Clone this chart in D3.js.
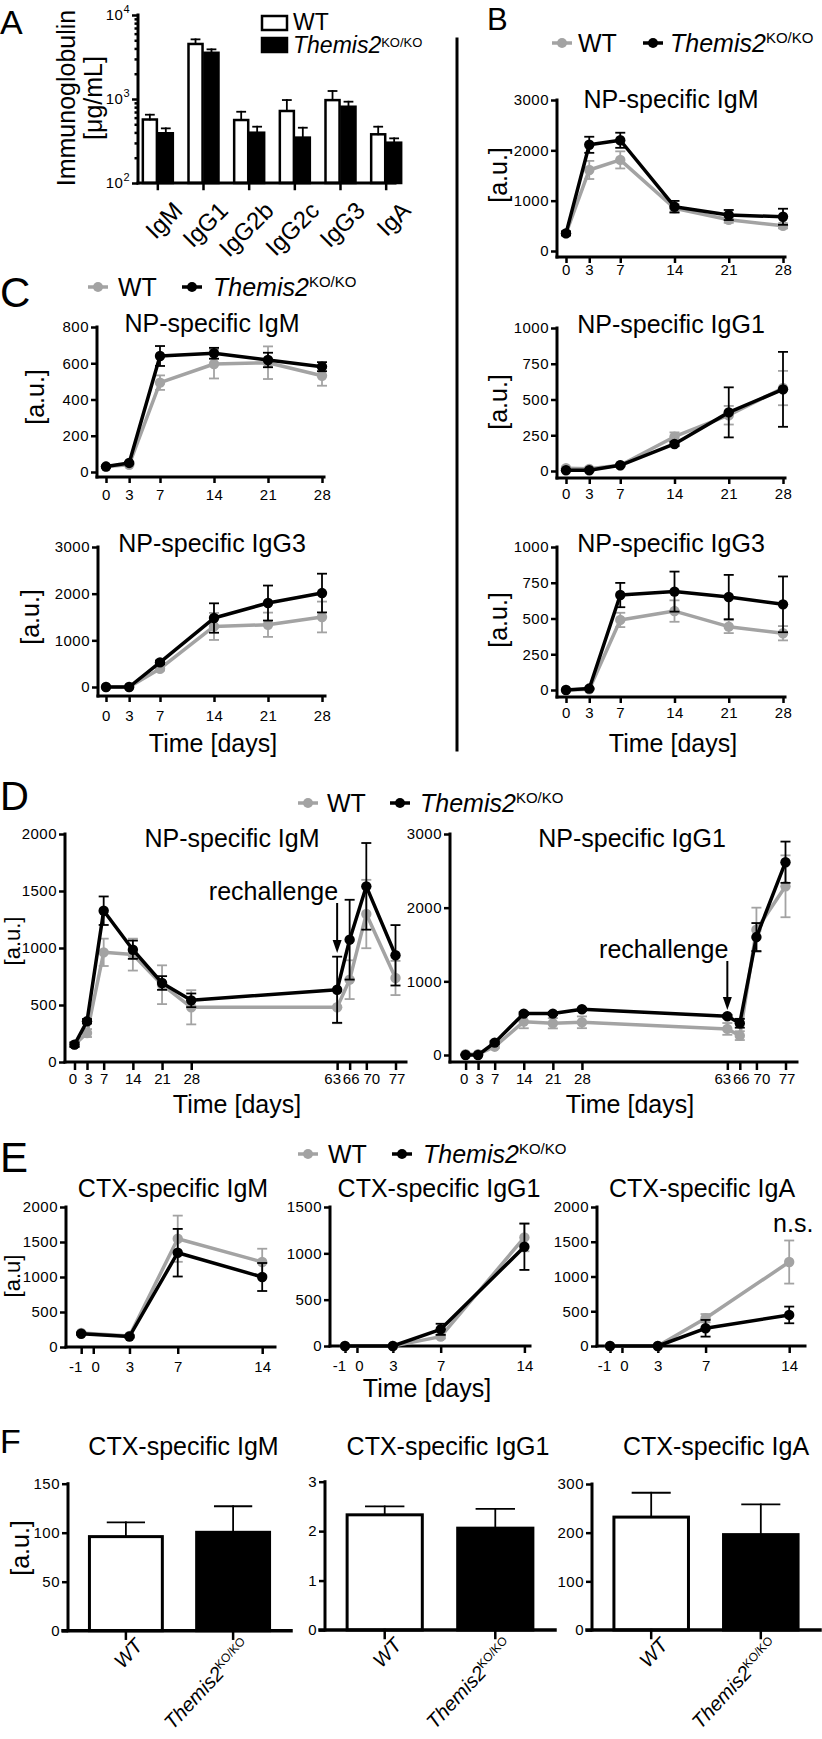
<!DOCTYPE html>
<html>
<head>
<meta charset="utf-8">
<script src="https://cdn.jsdelivr.net/npm/d3@7"></script>
<style>
  body { margin: 0; background: #fff; }
  svg text { font-family: 'Liberation Sans', Arial, Helvetica, sans-serif; fill: #000; }
</style>
</head>
<body>
<svg id="fig" width="822" height="1739"></svg>
<script>
/* global d3 */

var GRAY = '#a3a3a3'
var TXT = 25 // titles, legends, axis names
var TICK = 15

// panel A - total serum Ig (log scale)
var aCats = ['IgM', 'IgG1', 'IgG2b', 'IgG2c', 'IgG3', 'IgA']
var aWT = [570, 4520, 562, 720, 970, 380]
var aWTErr = [80, 610, 143, 252, 275, 88]
var aKO = [391, 3550, 397, 347, 809, 302]
var aKOErr = [56, 350, 71, 108, 120, 38]
var aTicks = [100, 1000, 10000]

// panels B / C - NP immunisation, days 0-28
var days28 = [0, 3, 7, 14, 21, 28]
var bIgMWT = [350, 1610, 1810, 850, 620, 500]
var bIgMWTErr = [40, 180, 170, 80, 60, 50]
var bIgMKO = [350, 2110, 2200, 880, 715, 680]
var bIgMKOErr = [40, 160, 150, 115, 100, 160]
var bIgG1WT = [20, 15, 40, 240, 390, 580]
var bIgG1WTErr = [10, 10, 10, 30, 65, 120]
var bIgG1KO = [5, 5, 40, 189, 410, 571]
var bIgG1KOErr = [5, 5, 5, 15, 175, 262]
var bIgG3WT = [0, 5, 490, 552, 443, 397]
var bIgG3WTErr = [0, 3, 50, 75, 45, 50]
var bIgG3KO = [0, 10, 664, 688, 650, 599]
var bIgG3KOErr = [0, 5, 85, 140, 155, 195]

var cIgMWT = [30, 40, 493, 596, 603, 531]
var cIgMWTErr = [5, 5, 40, 80, 90, 55]
var cIgMKO = [30, 50, 640, 655, 618, 581]
var cIgMKOErr = [5, 5, 55, 30, 40, 25]
var cIgG3WT = [0, 0, 392, 1298, 1334, 1500]
var cIgG3WTErr = [0, 0, 40, 290, 260, 330]
var cIgG3KO = [0, 0, 527, 1478, 1799, 2013]
var cIgG3KOErr = [0, 0, 40, 315, 375, 415]

// panel D - rechallenge at day 63
var days77 = [0, 3, 7, 14, 21, 28, 63, 66, 70, 77]
var dIgMWT = [152, 254, 962, 942, 678, 480, 480, 722, 1298, 737]
var dIgMWTErr = [20, 35, 120, 140, 170, 150, 140, 170, 300, 150]
var dIgMKO = [152, 357, 1327, 985, 693, 541, 634, 1073, 1541, 936]
var dIgMKOErr = [20, 20, 125, 80, 60, 60, 290, 350, 380, 265]
var dIgG1WT = [10, 10, 113, 453, 431, 444, 354, 263, 1700, 2290]
var dIgG1WTErr = [5, 5, 20, 90, 70, 80, 80, 60, 300, 420]
var dIgG1KO = [0, 0, 168, 562, 562, 621, 526, 431, 1601, 2617]
var dIgG1KOErr = [5, 5, 20, 20, 20, 20, 20, 60, 190, 280]

// panel E - CTX immunisation
var daysE = [-1, 3, 7, 14]
var tickE = [-1, 0, 3, 7, 14]
var eIgMWT = [200, 157, 1547, 1214]
var eIgMWTErr = [15, 15, 330, 190]
var eIgMKO = [190, 150, 1347, 1000]
var eIgMKOErr = [15, 15, 340, 200]
var eIgG1WT = [0, 0, 101, 1172]
var eIgG1WTErr = [0, 0, 20, 150]
var eIgG1KO = [0, 0, 180, 1071]
var eIgG1KOErr = [0, 0, 60, 250]
var eIgAWT = [0, 0, 400, 1208]
var eIgAWTErr = [0, 0, 60, 310]
var eIgAKO = [0, 0, 255, 447]
var eIgAKOErr = [0, 0, 120, 120]

// panel F - CTX bars
var fGroups = ['WT', 'KO']
var fIgM = [96, 100.4]
var fIgMErr = [14.6, 26.6]
var fIgG1 = [2.33, 2.06]
var fIgG1Err = [0.17, 0.39]
var fIgA = [232, 196]
var fIgAErr = [50, 62]

var svg = d3.select('#fig')
svg.append('rect').attr('width', 822).attr('height', 1739).attr('fill', '#fff')

function axisStyle (g) {
  g.attr('font-size', TICK).attr('font-family', null)
  g.select('.domain').remove()
  g.selectAll('.tick line').attr('stroke', '#000').attr('stroke-width', 2.5)
  g.selectAll('.tick text').attr('letter-spacing', '0.5px')
}

function rule (g, x1, y1, x2, y2, w, col) {
  g.append('line')
    .attr('x1', x1).attr('y1', y1).attr('x2', x2).attr('y2', y2)
    .attr('stroke', col || '#000').attr('stroke-width', w || 3)
    .attr('stroke-linecap', 'square')
}

function addText (g, x, y, str, size, anchor) {
  return g.append('text').attr('x', x).attr('y', y)
    .attr('font-size', size).attr('text-anchor', anchor || 'start').text(str)
}

function vLabel (g, x, y, str, size) {
  g.append('text')
    .attr('transform', 'translate(' + x + ',' + y + ') rotate(-90)')
    .attr('text-anchor', 'middle').attr('dy', '0.35em')
    .attr('font-size', size || TXT).text(str)
}

function themis (t, sup, rise) {
  t.append('tspan').attr('font-style', 'italic').text('Themis2')
  t.append('tspan').attr('font-size', sup || 15).attr('dy', -(rise || 9)).text('KO/KO')
  return t
}

function panelLetter (x, y, s, size) {
  addText(svg, x, y, s, size)
}

function lineLegend (y, xs) {
  var g = svg.append('g')
  ;[[xs[0], GRAY], [xs[2], '#000']].forEach(function (m) {
    g.append('line').attr('x1', m[0]).attr('x2', m[0] + 20).attr('y1', y).attr('y2', y)
      .attr('stroke', m[1]).attr('stroke-width', 3.5)
    g.append('circle').attr('cx', m[0] + 10).attr('cy', y).attr('r', 5).attr('fill', m[1])
  })
  addText(g, xs[1], y + 8.5, 'WT', TXT)
  themis(addText(g, xs[3], y + 8.5, null, TXT))
}

function lineChart (o) {
  var g = svg.append('g')
  var x = d3.scaleLinear().domain(o.xd).range(o.xr)
  var y = d3.scaleLinear().domain(o.yd).range(o.yr)

  g.append('g').attr('transform', 'translate(' + o.ax + ',0)')
    .call(d3.axisLeft(y).tickValues(o.yTicks).tickSize(6).tickPadding(2).tickFormat(String))
    .call(axisStyle)
  var xa = g.append('g').attr('transform', 'translate(0,' + o.ay + ')')
    .call(d3.axisBottom(x).tickValues(o.xTicks).tickSize(o.xts || 6).tickPadding(o.xtp || 3).tickFormat(String))
    .call(axisStyle)
  if (o.nudge) {
    xa.selectAll('.tick text')
      .attr('letter-spacing', null)
      .attr('dx', function (d) { return o.nudge[d] || 0 })
  }
  rule(g, o.ax, y(o.yd[1]), o.ax, o.ay)
  rule(g, o.ax, o.ay, o.axEnd, o.ay)

  var series = [
    {v: o.wt, e: o.wtE, c: GRAY},
    {v: o.ko, e: o.koE, c: '#000'}
  ]
  series.forEach(function (s) {
    var pts = o.days.map(function (d, i) { return {d: d, v: s.v[i], e: s.e[i]} })
    var sg = g.append('g')
    var eb = sg.selectAll('g.err')
      .data(pts.filter(function (p) { return p.e > 0 }))
      .enter().append('g').attr('class', 'err')
      .attr('stroke', s.c).attr('stroke-width', 1.8)
    eb.append('line')
      .attr('x1', function (p) { return x(p.d) }).attr('x2', function (p) { return x(p.d) })
      .attr('y1', function (p) { return y(Math.max(0, p.v - p.e)) })
      .attr('y2', function (p) { return y(p.v + p.e) })
    eb.append('line')
      .attr('x1', function (p) { return x(p.d) - 5 }).attr('x2', function (p) { return x(p.d) + 5 })
      .attr('y1', function (p) { return y(p.v + p.e) }).attr('y2', function (p) { return y(p.v + p.e) })
    eb.append('line')
      .attr('x1', function (p) { return x(p.d) - 5 }).attr('x2', function (p) { return x(p.d) + 5 })
      .attr('y1', function (p) { return y(Math.max(0, p.v - p.e)) })
      .attr('y2', function (p) { return y(Math.max(0, p.v - p.e)) })
    sg.append('path').datum(pts)
      .attr('d', d3.line().x(function (p) { return x(p.d) }).y(function (p) { return y(p.v) }))
      .attr('fill', 'none').attr('stroke', s.c).attr('stroke-width', 3.5)
      .attr('stroke-linejoin', 'round')
    sg.selectAll('circle').data(pts).enter().append('circle')
      .attr('cx', function (p) { return x(p.d) }).attr('cy', function (p) { return y(p.v) })
      .attr('r', 5.2).attr('fill', s.c)
  })

  addText(g, o.title[1], o.title[2], o.title[0], TXT, 'middle')
  if (o.ylab) vLabel(g, o.ylab[1], o.ylab[2], o.ylab[0], o.ylab[3])
  if (o.xlab) addText(g, o.xlab[0], o.xlab[1], 'Time [days]', TXT, 'middle')
  return {g: g, x: x, y: y}
}

function rechallenge (c, day, ty, y1, y2) {
  var xx = c.x(day)
  addText(c.g, xx + 1, ty, 'rechallenge', TXT, 'end')
  rule(c.g, xx, y1, xx, y2 - 10, 2)
  c.g.append('path')
    .attr('d', 'M' + (xx - 4.5) + ',' + (y2 - 13) + 'L' + (xx + 4.5) + ',' + (y2 - 13) + 'L' + xx + ',' + y2 + 'Z')
    .attr('fill', '#000')
}

function barChart (o) {
  var g = svg.append('g')
  var x = d3.scaleBand().domain(fGroups).range(o.xr).paddingInner(0.32).paddingOuter(0.2)
  var y = d3.scaleLinear().domain(o.yd).range(o.yr)
  var y0 = y(0)
  var bw = x.bandwidth()

  g.selectAll('rect.bar').data(o.v).enter().append('rect')
    .attr('x', function (d, i) { return x(fGroups[i]) })
    .attr('y', function (d) { return y(d) })
    .attr('width', bw)
    .attr('height', function (d) { return y0 - y(d) })
    .attr('fill', function (d, i) { return i === 0 ? '#fff' : '#000' })
    .attr('stroke', '#000').attr('stroke-width', 3)
  o.v.forEach(function (d, i) {
    var cx = x(fGroups[i]) + bw / 2
    var top = y(d + o.e[i])
    rule(g, cx, y(d), cx, top, 1.8)
    rule(g, cx - bw / 4, top, cx + bw / 4, top, 1.8)
  })

  g.append('g').attr('transform', 'translate(' + o.xr[0] + ',0)')
    .call(d3.axisLeft(y).tickValues(o.yTicks).tickSize(6).tickPadding(2).tickFormat(String))
    .call(axisStyle)
  rule(g, o.xr[0], y(o.yd[1]), o.xr[0], y0)
  rule(g, o.xr[0] - 5, y0, o.xr[1], y0, 3.5)

  fGroups.forEach(function (k) {
    var cx = x(k) + bw / 2
    rule(g, cx, y0, cx, y0 + 8, 2.5)
    var t = g.append('text')
      .attr('transform', 'translate(' + (cx + 18) + ',' + (y0 + 16) + ') rotate(-47)')
      .attr('text-anchor', 'end').attr('font-size', 20)
    if (k === 'WT') t.attr('font-style', 'italic').text('WT')
    else themis(t, 12, 7)
  })

  addText(g, o.title[1], o.title[2], o.title[0], TXT, 'middle')
  if (o.ylab) vLabel(g, o.ylab[1], o.ylab[2], o.ylab[0])
}

// ---------- panel A ----------
var aG = svg.append('g')
var aY = d3.scaleLog().domain([100, 10000]).range([183, 15])
var aX = d3.scaleBand().domain(aCats).range([135, 409])
var aSub = d3.scaleBand().domain(['WT', 'KO']).range([-15, 15]).paddingInner(0.12)

aCats.forEach(function (c, i) {
  var cx = aX(c) + aX.bandwidth() / 2
  ;[[aWT[i], aWTErr[i], 'WT', '#fff'], [aKO[i], aKOErr[i], 'KO', '#000']].forEach(function (b) {
    var bx = cx + aSub(b[2])
    aG.append('rect').attr('x', bx).attr('y', aY(b[0]))
      .attr('width', aSub.bandwidth()).attr('height', aY(100) - aY(b[0]))
      .attr('fill', b[3]).attr('stroke', '#000').attr('stroke-width', 2.5)
    var mid = bx + aSub.bandwidth() / 2
    rule(aG, mid, aY(b[0]), mid, aY(b[0] + b[1]), 1.8)
    rule(aG, mid - 4, aY(b[0] + b[1]), mid + 4, aY(b[0] + b[1]), 1.8)
  })
  rule(aG, cx, 183, cx, 189, 2.5)
  aG.append('text')
    .attr('transform', 'translate(' + (cx + 26) + ',' + 212 + ') rotate(-45)')
    .attr('text-anchor', 'end').attr('font-size', 24).text(c)
})

var aMinor = []
;[100, 1000].forEach(function (p) {
  for (var k = 2; k <= 9; k++) aMinor.push(p * k)
})
aG.append('g').attr('transform', 'translate(138,0)')
  .call(d3.axisLeft(aY).tickValues(aMinor).tickSize(3.5).tickFormat(''))
  .call(axisStyle)
aG.append('g').attr('transform', 'translate(138,0)')
  .call(d3.axisLeft(aY).tickValues(aTicks).tickSize(6).tickPadding(2))
  .call(axisStyle)
  .selectAll('.tick text')
  .each(function (d) {
    var t = d3.select(this).text(null)
    t.append('tspan').text('10')
    t.append('tspan').attr('font-size', 11).attr('dy', -7).text(Math.round(Math.log10(d)))
  })
rule(aG, 138, 15, 138, 183)
rule(aG, 138, 183, 395, 183)
aG.append('text').attr('transform', 'translate(66,98) rotate(-90)')
  .attr('text-anchor', 'middle').attr('dy', '0.35em').attr('font-size', TXT).text('Immunoglobulin')
aG.append('text').attr('transform', 'translate(93,98) rotate(-90)')
  .attr('text-anchor', 'middle').attr('dy', '0.35em').attr('font-size', TXT).text('[\u03bcg/mL]')

aG.append('rect').attr('x', 262).attr('y', 16).attr('width', 25).attr('height', 14)
  .attr('fill', '#fff').attr('stroke', '#000').attr('stroke-width', 2.5)
aG.append('rect').attr('x', 262).attr('y', 38).attr('width', 25).attr('height', 14)
  .attr('fill', '#000').attr('stroke', '#000').attr('stroke-width', 2.5)
addText(aG, 293, 30, 'WT', 23)
themis(addText(aG, 293, 53, null, 23), 13, 6)

// separator
rule(svg, 457, 39, 457, 750, 3)

// panel letters
panelLetter(0, 34, 'A', 34)
panelLetter(487, 30, 'B', 31)
panelLetter(0, 307, 'C', 42)
panelLetter(0, 810, 'D', 40)
panelLetter(0, 1172, 'E', 42)
panelLetter(0, 1453, 'F', 34)

// ---------- panel B ----------
lineLegend(43, [552, 578, 643, 670])
lineChart({
  xd: [0, 28], xr: [566, 783], yd: [0, 3000], yr: [251, 100],
  yTicks: [0, 1000, 2000, 3000], xTicks: days28, days: days28,
  ax: 557, ay: 257, axEnd: 785, xtp: 1,
  wt: bIgMWT, wtE: bIgMWTErr, ko: bIgMKO, koE: bIgMKOErr,
  title: ['NP-specific IgM', 671, 108], ylab: ['[a.u.]', 498, 175]
})
lineChart({
  xd: [0, 28], xr: [566, 783], yd: [0, 1000], yr: [471, 328],
  yTicks: [0, 250, 500, 750, 1000], xTicks: days28, days: days28,
  ax: 557, ay: 478, axEnd: 785, xtp: 4,
  wt: bIgG1WT, wtE: bIgG1WTErr, ko: bIgG1KO, koE: bIgG1KOErr,
  title: ['NP-specific IgG1', 671, 333], ylab: ['[a.u.]', 498, 402]
})
lineChart({
  xd: [0, 28], xr: [566, 783], yd: [0, 1000], yr: [690, 547],
  yTicks: [0, 250, 500, 750, 1000], xTicks: days28, days: days28,
  ax: 557, ay: 697, axEnd: 785, xtp: 4,
  wt: bIgG3WT, wtE: bIgG3WTErr, ko: bIgG3KO, koE: bIgG3KOErr,
  title: ['NP-specific IgG3', 671, 552], ylab: ['[a.u.]', 498, 620],
  xlab: [673, 752]
})

// ---------- panel C ----------
lineLegend(287, [88, 118, 182, 213])
lineChart({
  xd: [0, 28], xr: [106, 322], yd: [0, 800], yr: [472, 327],
  yTicks: [0, 200, 400, 600, 800], xTicks: days28, days: days28,
  ax: 97, ay: 477, axEnd: 324, xtp: 6,
  wt: cIgMWT, wtE: cIgMWTErr, ko: cIgMKO, koE: cIgMKOErr,
  title: ['NP-specific IgM', 212, 332], ylab: ['[a.u.]', 35, 397]
})
lineChart({
  xd: [0, 28], xr: [106, 322], yd: [0, 3000], yr: [687, 547],
  yTicks: [0, 1000, 2000, 3000], xTicks: days28, days: days28,
  ax: 98, ay: 696, axEnd: 325, xtp: 8,
  wt: cIgG3WT, wtE: cIgG3WTErr, ko: cIgG3KO, koE: cIgG3KOErr,
  title: ['NP-specific IgG3', 212, 552], ylab: ['[a.u.]', 30, 617],
  xlab: [213, 752]
})

// ---------- panel D ----------
lineLegend(803, [298, 327, 390, 420])
var dNudge = {0: -2, 3: 1, 63: -5, 66: 1, 70: 5, 77: 1}
var d1 = lineChart({
  xd: [0, 77], xr: [74.5, 395.5], yd: [0, 2000], yr: [1062, 834],
  yTicks: [0, 500, 1000, 1500, 2000], xTicks: days77, days: days77,
  ax: 65, ay: 1062, axEnd: 406, xts: 8, xtp: 3, nudge: dNudge,
  wt: dIgMWT, wtE: dIgMWTErr, ko: dIgMKO, koE: dIgMKOErr,
  title: ['NP-specific IgM', 232, 847], ylab: ['[a.u.]', 12.5, 941, 22],
  xlab: [237, 1113]
})
rechallenge(d1, 63, 900, 904, 953)
var d2 = lineChart({
  xd: [0, 77], xr: [465.6, 785.5], yd: [0, 3000], yr: [1055, 834],
  yTicks: [0, 1000, 2000, 3000], xTicks: days77, days: days77,
  ax: 450, ay: 1062, axEnd: 797, xts: 8, xtp: 3, nudge: dNudge,
  wt: dIgG1WT, wtE: dIgG1WTErr, ko: dIgG1KO, koE: dIgG1KOErr,
  title: ['NP-specific IgG1', 632, 847], xlab: [630, 1113]
})
rechallenge(d2, 63, 958, 962, 1010)

// ---------- panel E ----------
lineLegend(1154, [298, 328, 392, 423])
var eNudge = {'-1': -6, 0: 2}
lineChart({
  xd: [-1, 14], xr: [81.2, 262.2], yd: [0, 2000], yr: [1347, 1207],
  yTicks: [0, 500, 1000, 1500, 2000], xTicks: tickE, days: daysE,
  ax: 66, ay: 1347, axEnd: 275, xts: 7, xtp: 7, nudge: eNudge,
  wt: eIgMWT, wtE: eIgMWTErr, ko: eIgMKO, koE: eIgMKOErr,
  title: ['CTX-specific IgM', 173, 1197], ylab: ['[a.u]', 12.5, 1276, 22]
})
lineChart({
  xd: [-1, 14], xr: [345, 524.4], yd: [0, 1500], yr: [1346, 1207],
  yTicks: [0, 500, 1000, 1500], xTicks: tickE, days: daysE,
  ax: 330, ay: 1346, axEnd: 530, xts: 7, xtp: 7, nudge: eNudge,
  wt: eIgG1WT, wtE: eIgG1WTErr, ko: eIgG1KO, koE: eIgG1KOErr,
  title: ['CTX-specific IgG1', 439, 1197], xlab: [427, 1397]
})
var e3 = lineChart({
  xd: [-1, 14], xr: [610, 789.2], yd: [0, 2000], yr: [1346, 1207],
  yTicks: [0, 500, 1000, 1500, 2000], xTicks: tickE, days: daysE,
  ax: 597, ay: 1346, axEnd: 805, xts: 7, xtp: 7, nudge: eNudge,
  wt: eIgAWT, wtE: eIgAWTErr, ko: eIgAKO, koE: eIgAKOErr,
  title: ['CTX-specific IgA', 702, 1197]
})
addText(e3.g, e3.x(14) + 4, 1232, 'n.s.', TXT, 'middle')

// ---------- panel F ----------
barChart({
  xr: [68, 291], yd: [0, 150], yr: [1630.7, 1483.7], yTicks: [0, 50, 100, 150],
  v: fIgM, e: fIgMErr, title: ['CTX-specific IgM', 183.5, 1455], ylab: ['[a.u.]', 20, 1548]
})
barChart({
  xr: [325, 555], yd: [0, 3], yr: [1630, 1481.7], yTicks: [0, 1, 2, 3],
  v: fIgG1, e: fIgG1Err, title: ['CTX-specific IgG1', 448, 1455]
})
barChart({
  xr: [592, 820], yd: [0, 300], yr: [1630, 1484], yTicks: [0, 100, 200, 300],
  v: fIgA, e: fIgAErr, title: ['CTX-specific IgA', 716, 1455]
})
</script>
</body>
</html>
